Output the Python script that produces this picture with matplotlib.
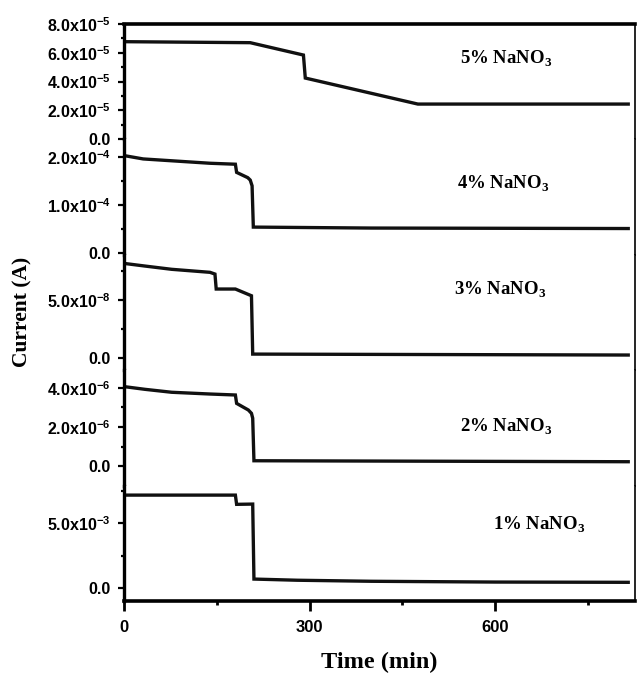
import numpy as np
import matplotlib
matplotlib.use('Agg')
import matplotlib.pyplot as plt
from matplotlib.ticker import FixedLocator, FuncFormatter

# data (time in min, current in A), top panel first
labels = ['5% NaNO$_\\mathrm{3}$', '4% NaNO$_\\mathrm{3}$', '3% NaNO$_\\mathrm{3}$',
          '2% NaNO$_\\mathrm{3}$', '1% NaNO$_\\mathrm{3}$']

t5 = [0, 204, 290, 293, 475, 815]
i5 = [6.77e-5, 6.70e-5, 5.84e-5, 4.24e-5, 2.43e-5, 2.43e-5]

t4 = [0, 31, 139, 180, 182, 200, 204, 207, 209, 400, 815]
i4 = [2.03e-4, 1.96e-4, 1.87e-4, 1.85e-4, 1.68e-4, 1.57e-4, 1.52e-4, 1.40e-4, 0.54e-4, 0.52e-4, 0.51e-4]

t3 = [0, 34, 77, 139, 147, 149, 180, 206, 208, 815]
i3 = [8.16e-8, 7.93e-8, 7.65e-8, 7.39e-8, 7.24e-8, 5.95e-8, 5.95e-8, 5.37e-8, 0.34e-8, 0.26e-8]

t2 = [0, 34, 77, 139, 180, 182, 201, 206, 208, 210, 815]
i2 = [4.07e-6, 3.93e-6, 3.78e-6, 3.69e-6, 3.64e-6, 3.21e-6, 2.87e-6, 2.70e-6, 2.45e-6, 0.27e-6, 0.22e-6]

t1 = [0, 180, 182, 208, 210, 280, 400, 600, 815]
i1 = [7.15e-3, 7.15e-3, 6.44e-3, 6.46e-3, 0.69e-3, 0.60e-3, 0.52e-3, 0.46e-3, 0.44e-3]

major5 = [0, 2e-5, 4e-5, 6e-5, 8e-5]
minor5 = [1e-5, 3e-5, 5e-5, 7e-5]
major4 = [0, 1e-4, 2e-4]
minor4 = [0.5e-4, 1.5e-4]
major3 = [0, 5e-8]
minor3 = [2.5e-8, 7.5e-8]
major2 = [0, 2e-6, 4e-6]
minor2 = [1e-6, 3e-6]
major1 = [0, 5e-3]
minor1 = [2.5e-3, 7.5e-3]

xmajor = [0, 300, 600]
xminor = [150, 450, 750]

plt.rcParams['mathtext.fontset'] = 'custom'
plt.rcParams['mathtext.bf'] = 'Liberation Sans:bold'
plt.rcParams['mathtext.rm'] = 'Liberation Serif:bold'


def sci(v, pos=None):
    if abs(v) < 1e-20:
        return '0.0'
    e = int(np.floor(np.log10(abs(v)) + 1e-9))
    m = v / 10.0 ** e
    return r'$\mathbf{%.1fx10^{%d}}$' % (m, e)


panels = [
    (t5, i5, major5, minor5, (-2.8e-7, 8.0e-5)),
    (t4, i4, major4, minor4, (-3.75e-6, 2.367e-4)),
    (t3, i3, major3, minor3, (-1.05e-8, 8.9e-8)),
    (t2, i2, major2, minor2, (-1.005e-6, 4.91e-6)),
    (t1, i1, major1, minor1, (-1.0e-3, 7.88e-3)),
]
# label placement (axes fraction, baseline)
lab_pos = [(0.6575, 0.658), (0.6517, 0.576), (0.6458, 0.652), (0.6575, 0.467), (0.7221, 0.615)]

fig = plt.figure(figsize=(6.37, 6.76), dpi=100)
gs = fig.add_gridspec(5, 1, left=0.1947, right=0.9969, top=0.9645, bottom=0.1109, hspace=0)
axes = []
for k, (t, cur, maj, mnr, yl) in enumerate(panels):
    ax = fig.add_subplot(gs[k])
    axes.append(ax)
    ax.plot(t, cur, color='#111111', lw=2.4, solid_joinstyle='miter')
    ax.set_xlim(0, 826)
    ax.set_ylim(*yl)
    ax.yaxis.set_major_locator(FixedLocator(maj))
    ax.yaxis.set_minor_locator(FixedLocator(mnr))
    ax.yaxis.set_major_formatter(FuncFormatter(sci))
    ax.tick_params(axis='y', which='major', direction='out', length=4.3, width=1.6,
                   pad=5.5, labelsize=11.5)
    ax.tick_params(axis='y', which='minor', direction='out', length=2.2, width=1.6)
    for lbl in ax.get_yticklabels():
        lbl.set_fontfamily('Liberation Sans')
        lbl.set_fontweight('bold')
    ax.spines['left'].set_linewidth(2.4)
    ax.spines['right'].set_linewidth(1.2)
    ax.spines['top'].set_visible(k == 0)
    ax.spines['top'].set_linewidth(2.6)
    ax.spines['bottom'].set_visible(k == 4)
    ax.spines['bottom'].set_linewidth(2.6)
    if k < 4:
        ax.tick_params(axis='x', which='both', bottom=False, labelbottom=False)
    ax.text(lab_pos[k][0], lab_pos[k][1], labels[k], transform=ax.transAxes,
            ha='left', va='baseline', fontsize=13.5, family='Liberation Serif',
            fontweight='bold')

axb = axes[-1]
axb.xaxis.set_major_locator(FixedLocator(xmajor))
axb.xaxis.set_minor_locator(FixedLocator(xminor))
axb.tick_params(axis='x', which='major', direction='out', length=7, width=2.0, pad=7)
axb.tick_params(axis='x', which='minor', direction='out', length=3, width=2.0)
for lbl in axb.get_xticklabels():
    lbl.set_fontfamily('Liberation Sans')
    lbl.set_fontweight('bold')
    lbl.set_fontsize(12)

fig.text(22 / 637, 1 - 312 / 676, 'Current (A)', rotation=90, ha='center', va='center',
         fontsize=15.5, family='Liberation Serif', fontweight='bold')
fig.text(379 / 637, 1 - 662 / 676, 'Time (min)', ha='center', va='center',
         fontsize=17.5, family='Liberation Serif', fontweight='bold')

fig.savefig('out.png', dpi=100)
